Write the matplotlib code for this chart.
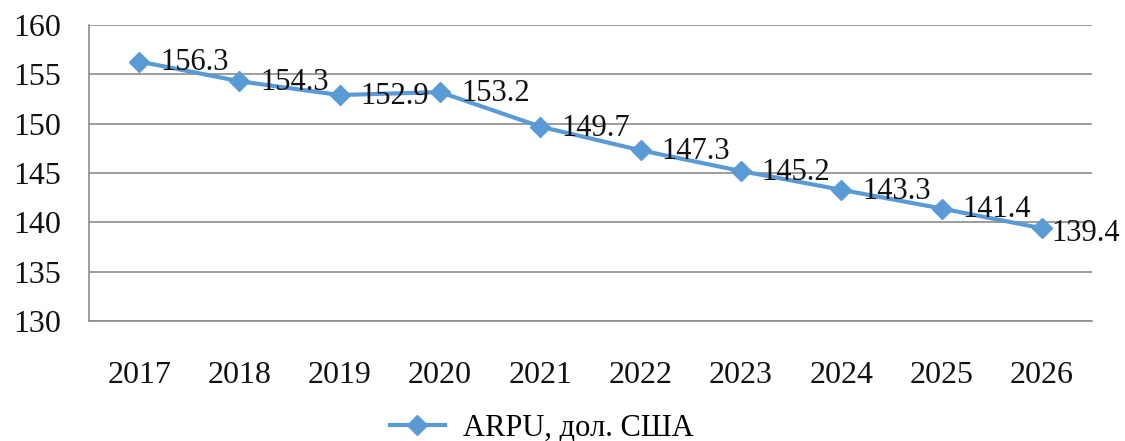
import matplotlib.pyplot as plt

years = ['2017', '2018', '2019', '2020', '2021', '2022', '2023', '2024', '2025', '2026']
arpu = [156.3, 154.3, 152.9, 153.2, 149.7, 147.3, 145.2, 143.3, 141.4, 139.4]
y_ticks = [130, 135, 140, 145, 150, 155, 160]

plt.rcParams['font.family'] = ['Liberation Serif', 'DejaVu Serif']

fig = plt.figure(figsize=(11.25, 4.41), dpi=100)
ax = fig.add_axes([89 / 1125, 1 - 321 / 441, 1003 / 1125, 296 / 441])

x = list(range(len(years)))
line, = ax.plot(x, arpu, '-D', color='#5B9BD5', lw=3, ms=10,
                label='ARPU, дол. США', zorder=3)

for i, (xi, v) in enumerate(zip(x, arpu)):
    # last label sits closer to its point so it stays inside the figure
    dx, dy = (15, -1) if i < len(x) - 1 else (7, -4)
    ax.annotate(f'{v:.1f}', (xi, v), xytext=(dx, dy), textcoords='offset points',
                fontsize=22, va='center', ha='left', color='#111111', zorder=4,
                annotation_clip=False)

ax.set_xlim(-0.5, len(years) - 0.5)
ax.set_ylim(130, 160)
ax.set_yticks(y_ticks)
ax.set_xticks(x)
ax.set_xticklabels(years)
ax.yaxis.grid(True, color='#8c8c8c', lw=1.2)
ax.set_axisbelow(True)
ax.tick_params(length=0, labelsize=23, colors='#111111')
ax.tick_params(axis='x', pad=29)
ax.tick_params(axis='y', pad=20)
for s in ['top', 'right']:
    ax.spines[s].set_visible(False)
for s in ['left', 'bottom']:
    ax.spines[s].set_color('#8c8c8c')
    ax.spines[s].set_linewidth(1.2)

fig.legend(handles=[line], loc='center', bbox_to_anchor=(542 / 1125, 1 - 428 / 441),
           frameon=False, fontsize=22, handlelength=1.8, handletextpad=0.6,
           borderpad=0, borderaxespad=0)

fig.savefig('out.png', dpi=100)
